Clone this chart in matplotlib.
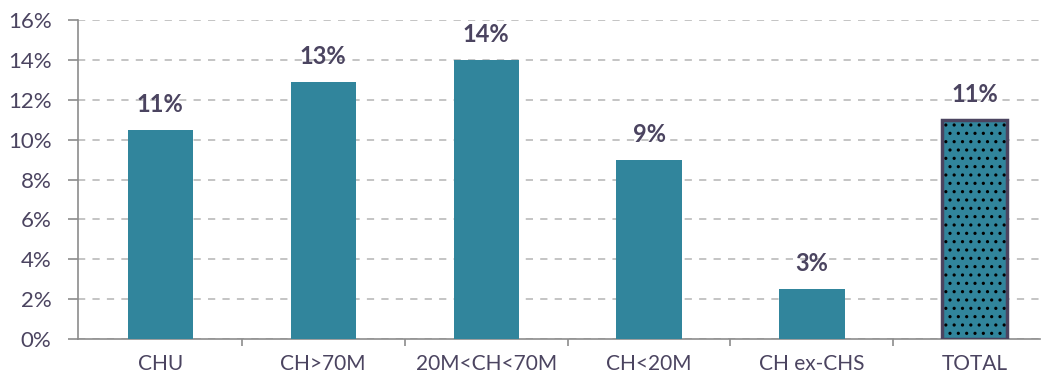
import matplotlib.pyplot as plt
import numpy as np
from matplotlib.ticker import FixedLocator, PercentFormatter
import matplotlib as mpl

categories = ["CHU", "CH>70M", "20M<CH<70M", "CH<20M", "CH ex-CHS", "TOTAL"]
values = [10.5, 12.9, 14.0, 9.0, 2.5, 11.0]
labels = ["11%", "13%", "14%", "9%", "3%", "11%"]

plt.rcParams['font.family'] = ['Lato', 'DejaVu Sans']
mpl.rcParams['hatch.linewidth'] = 1.1

fig = plt.figure(figsize=(10.43, 3.8), dpi=100)
ax = fig.add_axes([78/1043, (380-339)/380, (1040-78)/1043, (339-20)/380])

x = np.arange(len(categories))
teal = '#31859C'
ax.bar(x[:-1], values[:-1], width=0.4, color=teal, zorder=3)
ax.bar(x[-1], values[-1], width=0.4, color=teal, linewidth=0, zorder=3)
ax.bar(x[-1], values[-1], width=0.4, color='none', hatch='..', edgecolor='black',
       linewidth=0, zorder=4)
ax.bar(x[-1], values[-1], width=0.4, color='none', edgecolor='#4B4460',
       linewidth=2.5, zorder=5)

for xi, v, lab in zip(x, values, labels):
    ax.text(xi, v + 0.7, lab, ha='center', va='bottom', fontsize=17,
            fontweight='bold', color='#4B4460')

ax.set_xlim(-0.505, 5.4)
ax.set_ylim(0, 16)
ax.set_yticks(np.arange(0, 17, 2))
ax.yaxis.set_major_formatter(PercentFormatter(decimals=0))
ax.grid(axis='y', linestyle=(0, (4, 4)), color='#BFBFBF', linewidth=1.3, zorder=0)

ax.set_xticks(x)
ax.set_xticklabels(categories)
ax.xaxis.set_minor_locator(FixedLocator(x[:-1] + 0.5))
ax.tick_params(axis='x', which='major', length=0, pad=11, labelsize=15, labelcolor='#4B4460')
ax.tick_params(axis='x', which='minor', length=5, color='#8C8C8C', width=1.2)
ax.tick_params(axis='y', length=7, color='#8C8C8C', width=1.2, labelsize=16,
               labelcolor='#4B4460', pad=12)

for s in ['top', 'right']:
    ax.spines[s].set_visible(False)
for s in ['left', 'bottom']:
    ax.spines[s].set_color('#8C8C8C')
    ax.spines[s].set_linewidth(1.2)

fig.savefig('out.png', dpi=100)
